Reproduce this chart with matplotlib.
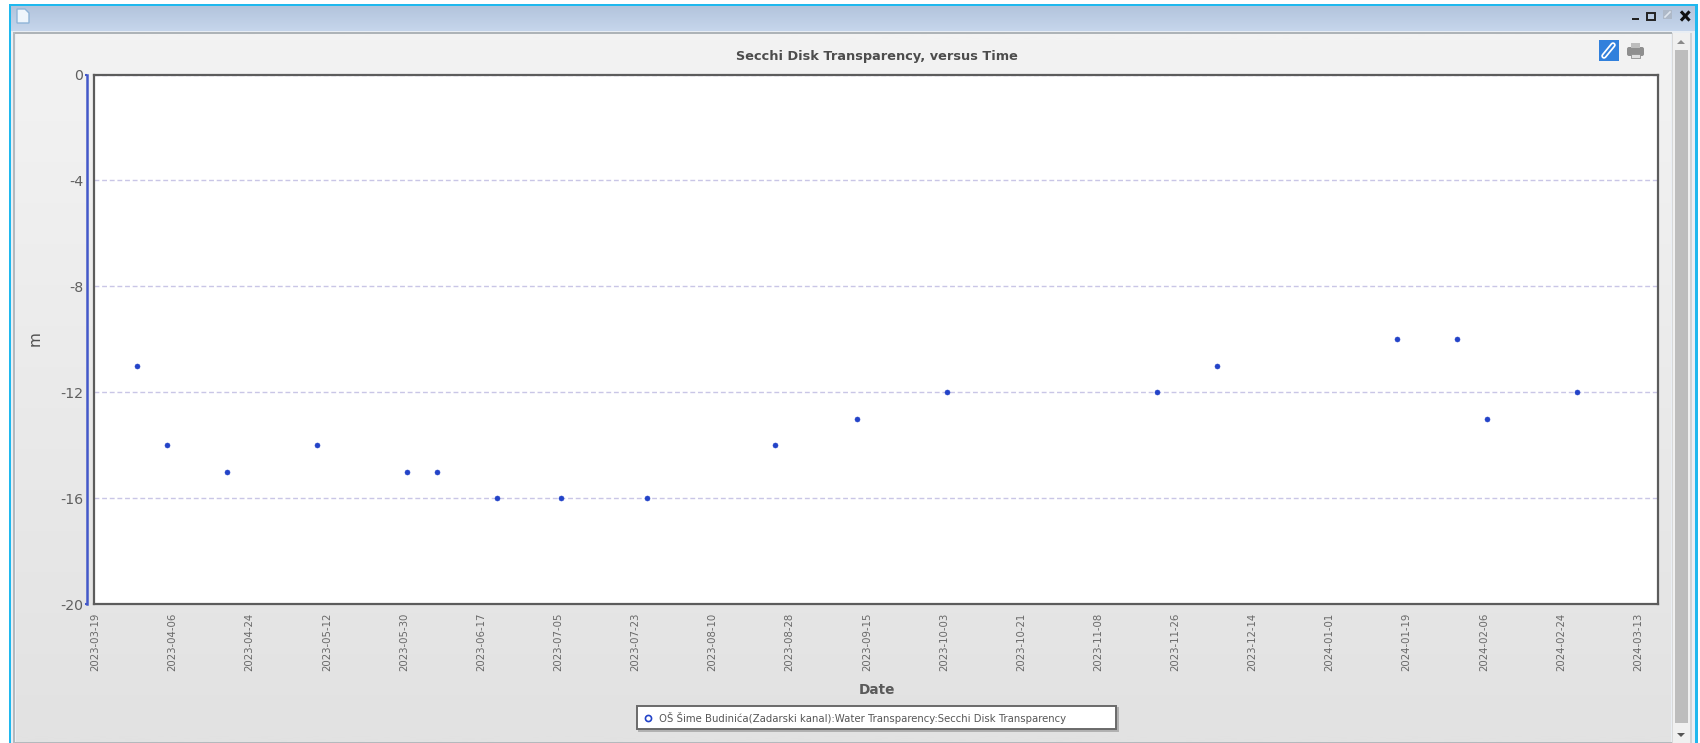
import numpy as np
import matplotlib
matplotlib.use("Agg")
import matplotlib.pyplot as plt
import matplotlib.dates as mdates
from matplotlib.lines import Line2D
from matplotlib.patches import Rectangle, Polygon, FancyBboxPatch
from matplotlib.transforms import ScaledTranslation
from datetime import datetime, timedelta

dates = ["2023-03-29","2023-04-05","2023-04-19","2023-05-10","2023-05-31","2023-06-07",
         "2023-06-21","2023-07-06","2023-07-26","2023-08-25","2023-09-13","2023-10-04",
         "2023-11-22","2023-12-06","2024-01-17","2024-01-31","2024-02-07","2024-02-28"]
values = [-11,-14,-15,-14,-15,-15,-16,-16,-16,-14,-13,-12,-12,-11,-10,-10,-13,-12]
x_ticks = ["2023-03-19","2023-04-06","2023-04-24","2023-05-12","2023-05-30","2023-06-17",
           "2023-07-05","2023-07-23","2023-08-10","2023-08-28","2023-09-15","2023-10-03",
           "2023-10-21","2023-11-08","2023-11-26","2023-12-14","2024-01-01","2024-01-19",
           "2024-02-06","2024-02-24","2024-03-13"]
y_ticks = [0,-4,-8,-12,-16,-20]
series_name = "OŠ Šime Budinića(Zadarski kanal):Water Transparency:Secchi Disk Transparency"
title = "Secchi Disk Transparency, versus Time"

plt.rcParams['font.family'] = ['DejaVu Sans']
plt.rcParams['axes.unicode_minus'] = False

W, H = 1700, 743
fig = plt.figure(figsize=(W/100, H/100), dpi=100, facecolor="white")

bg = fig.add_axes([0,0,1,1], zorder=-1)
bg.set_xlim(0,W); bg.set_ylim(H,0); bg.axis("off")

def grad(x0,x1,y0,y1,c0,c1,z=1):
    c0=np.array(matplotlib.colors.to_rgb(c0)); c1=np.array(matplotlib.colors.to_rgb(c1))
    t=np.linspace(0,1,64)[:,None,None]
    img=c0[None,None,:]*(1-t)+c1[None,None,:]*t
    bg.imshow(img,extent=(x0,x1,y1,y0),aspect="auto",zorder=z,interpolation="bilinear")
    bg.set_xlim(0,W); bg.set_ylim(H,0)

def rect(x0,y0,x1,y1,fc,ec="none",lw=0,z=2):
    bg.add_patch(Rectangle((x0,y0),x1-x0,y1-y0,fc=fc,ec=ec,lw=lw,zorder=z))

# window frame
rect(9,4,1698,743,"#d5e6f4",z=0.5)
rect(9,4,1698,6,"#1fb8ee",z=3)
rect(9,4,11.5,743,"#1fb8ee",z=3)
rect(1695.5,4,1698,743,"#1fb8ee",z=3)
grad(11.5,1695.5,6,31,"#b3c4dc","#c6d6ec",z=1)
rect(11.5,31,1695.5,743,"#e9eef4",z=1)
# panel
grad(16,1671,34,742,"#f3f3f3","#e2e2e2",z=1.5)
rect(13.5,32,1672,33.5,"#aeb4b8",z=3)
rect(13.5,32,15.5,743,"#b4b9bd",z=3)
rect(13.5,741.5,1672,743,"#b4b9bd",z=3)
# scrollbar
rect(1672,33,1691,743,"#f0f0f0",z=2)
rect(1672,33,1673,743,"#d8d8d8",z=3)
rect(1690,33,1692,743,"#cfd3d6",z=3)
rect(1675,50,1688,723,"#bdbdbd",z=3)
bg.add_patch(Polygon([[1677,44],[1685,44],[1681,40]],fc="#8a8a8a",zorder=4))
bg.add_patch(Polygon([[1677,733],[1685,733],[1681,737]],fc="#555555",zorder=4))
# title bar icons
bg.add_patch(Polygon([[17,9],[25,9],[29,13],[29,23],[17,23]],fc="#eef5fc",ec="#8fb4d8",lw=1,zorder=4))
rect(1632,17.5,1639,19.5,"#222222",z=4)
bg.add_patch(Rectangle((1647.5,13),7.5,6.5,fc="none",ec="#222222",lw=1.4,zorder=4))
rect(1663,9.5,1672,19,"#aeb9c8",z=4)
bg.plot([1665,1670],[17,12],color="#dfe6ee",lw=1.2,zorder=5)
bg.plot([1682,1688.5],[12.5,19.5],color="#111111",lw=2.2,zorder=4)
bg.plot([1688.5,1682],[12.5,19.5],color="#111111",lw=2.2,zorder=4)
# link icon
rect(1599,40,1619,61,"#3180dc",z=4)
bg.plot([1604,1613],[56,45],color="white",lw=4,solid_capstyle="round",zorder=5)
bg.plot([1604,1613],[56,45],color="#3180dc",lw=1.5,solid_capstyle="round",zorder=6)
# print icon
bg.add_patch(FancyBboxPatch((1627,47),17,9,boxstyle="round,pad=0,rounding_size=2",fc="#8f8f8f",ec="none",zorder=4))
rect(1631,43,1640,48,"#bdbdbd",z=5)
rect(1631,54,1640,58,"#e0e0e0",ec="#8f8f8f",lw=0.6,z=5)

# main axes
L,T,R,B = 93.5,74.5,1658,604
ax = fig.add_axes([L/W,1-B/H,(R-L)/W,(B-T)/H], facecolor="white")
xd = [datetime.strptime(d,"%Y-%m-%d") for d in dates]
xt = [datetime.strptime(d,"%Y-%m-%d") for d in x_ticks]
ax.plot(xd, values, linestyle="none", marker="o", ms=3.6, mfc="#2343c8", mec="#2343c8", mew=0.4, zorder=3)
ax.set_xlim(xt[0]-timedelta(days=0.1), xt[0]+timedelta(days=365))
ax.set_ylim(-20,0)
ax.xaxis.set_major_locator(plt.FixedLocator(mdates.date2num(xt)))
ax.xaxis.set_major_formatter(mdates.DateFormatter("%Y-%m-%d"))
ax.set_yticks(y_ticks)
ax.yaxis.grid(True, color="#c9c6e6", ls=(0,(3.5,2)), lw=1)
ax.set_axisbelow(True)
ax.tick_params(axis="x", length=0, pad=6, labelrotation=90, labelsize=7.3, labelcolor="#686868")
ax.tick_params(axis="y", length=0, pad=7.5, labelsize=10.2, labelcolor="#606060")
shift = ScaledTranslation(1.5/100, 0, fig.dpi_scale_trans)
for lab in ax.get_xticklabels():
    lab.set_transform(lab.get_transform() + shift)
for s in ax.spines.values():
    s.set_color("#5c5c5c"); s.set_linewidth(1.6)
# blue y axis line, separate from the frame
ax2 = ax.twinx(); ax2.set_ylim(-20,0)
ax2.set_yticks([-20,0])
ax2.yaxis.set_ticks_position("left")
ax2.tick_params(axis="y", length=1.6, width=1.5, color="#4358c9", labelleft=False, labelright=False)
ax2.spines["left"].set_visible(True)
ax2.spines["left"].set_position(("outward", 5))
ax2.spines["left"].set_color("#4358c9"); ax2.spines["left"].set_linewidth(1.8)
for k in ("top","right","bottom"):
    ax2.spines[k].set_visible(False)

fig.text(877/W, 1-56.8/H, title, ha="center", va="center", fontsize=9.25, fontweight="bold", color="#4d4d4d")
fig.text(877/W, 1-689.5/H, "Date", ha="center", va="center", fontsize=9.8, fontweight="bold", color="#5a5a5a")
fig.text(35/W, 1-339/H, "m", ha="center", va="center", rotation=90, fontsize=11, color="#505050")

h = Line2D([],[],linestyle="none",marker="o",ms=4.4,mfc="white",mec="#2343c8",mew=1.2)
leg = fig.legend([h],[series_name],loc="center",
                 bbox_to_anchor=(637/W,1-729/H,(1116-637)/W,22.5/H),bbox_transform=fig.transFigure,
                 mode="expand",borderaxespad=0,borderpad=0.55,handlelength=1.0,handletextpad=0.6,
                 fontsize=7.25,frameon=True,fancybox=False,framealpha=1,facecolor="white",edgecolor="#6a6a6a",
                 labelcolor="#555555",shadow={"ox":1.5,"oy":-1.5,"color":"#b0b0b0","alpha":1})
leg.get_frame().set_linewidth(1.4)

fig.savefig("out.png", dpi=100)
